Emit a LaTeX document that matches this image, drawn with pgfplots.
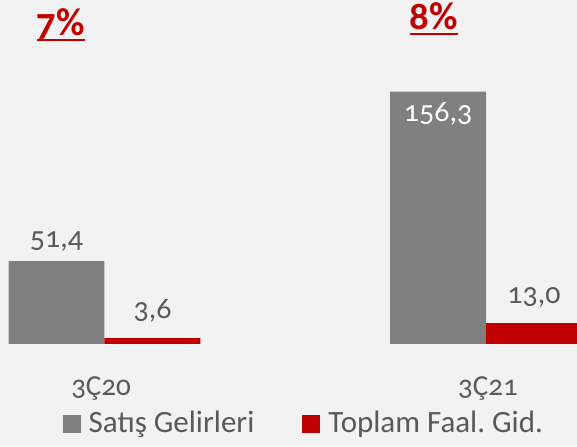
\documentclass[border=0pt]{standalone}
\usepackage{pgfplots}
\pgfplotsset{compat=1.18}
\usepackage{fontspec}
\setmainfont{Carlito}[Numbers=OldStyle]
\frenchspacing

\definecolor{bg}{HTML}{F2F2F2}
\definecolor{barGray}{HTML}{808080}
\definecolor{barRed}{HTML}{C00000}
\definecolor{txt}{HTML}{595959}

% underline that runs through descenders, as in the original
\newcommand\ulpct[1]{\setbox0\hbox{#1}\rlap{\rule[-2.75pt]{\wd0}{1pt}}\box0}

\begin{document}
\begin{tikzpicture}
\begin{axis}[
    scale only axis,
    width=288.5pt, height=223pt,
    xmin=-0.2739, xmax=1.2385,
    ymin=-63.2, ymax=213.1,
    axis background/.style={fill=bg},
    axis line style={draw=none},
    xtick=\empty, ytick=\empty,
    ybar=0pt, bar width=0.2516,
    /pgf/number format/.cd, use comma, fixed, fixed zerofill, precision=1,
    assume math mode=true,
    /pgfplots/.cd,
    legend columns=2,
    legend cell align=left,
    legend style={
        draw=none, fill=none, inner sep=0pt, outer sep=0pt,
        at={(axis description cs:0.1087,0.02915)}, anchor=south west,
        font=\fontsize{15.5}{18}\selectfont, text=txt,
        nodes={inner sep=0pt, text depth=0pt},
        /tikz/every even column/.append style={column sep=24pt},
        /tikz/every odd column/.append style={column sep=4pt},
    },
]
% Satış Gelirleri
\addplot[fill=barGray, draw=none,
    legend image code/.code={\fill[barGray] (0pt,-5.8pt) rectangle (9pt,3.2pt);},
    nodes near coords,
    visualization depends on={rawy \as \rawy},
    nodes near coords={\ifdim\rawy pt>100pt\color{white}\fi\pgfmathprintnumber{\pgfplotspointmeta}},
    every node near coord/.append style={
        anchor=base, inner sep=0pt, text=txt,
        font=\fontsize{15}{18}\selectfont,
        yshift={ifthenelse(\rawy>100,-15,7)}},
] coordinates {(0,51.4) (1,156.3)};
\addlegendentry{Satış Gelirleri}

% Toplam Faal. Gid.
\addplot[fill=barRed, draw=none,
    legend image code/.code={\fill[barRed] (0pt,-5.8pt) rectangle (9pt,3.2pt);},
    nodes near coords,
    every node near coord/.append style={
        anchor=base, inner sep=0pt, text=txt,
        font=\fontsize{15}{18}\selectfont, yshift=10pt},
] coordinates {(0,3.6) (1,13.0)};
\addlegendentry{Toplam Faal. Gid.}

% margin labels
\node[anchor=base, text=barRed, font=\fontsize{19.5}{23}\selectfont\bfseries]
    at (axis cs:-0.114,191.2) {\ulpct{7\%}};
\node[anchor=base, text=barRed, font=\fontsize{19.5}{23}\selectfont\bfseries]
    at (axis cs:0.8637,194.8) {\ulpct{8\%}};

% category labels
\node[anchor=base, text=txt, font=\fontsize{14.5}{17}\selectfont]
    at (axis cs:-0.009,-31.6) {3Ç20};
\node[anchor=base, text=txt, font=\fontsize{14.5}{17}\selectfont]
    at (axis cs:1.005,-31.6) {3Ç21};
\end{axis}
\pgfresetboundingbox
\path[use as bounding box] (current axis.south west) rectangle (current axis.north east);
\end{tikzpicture}
\end{document}
